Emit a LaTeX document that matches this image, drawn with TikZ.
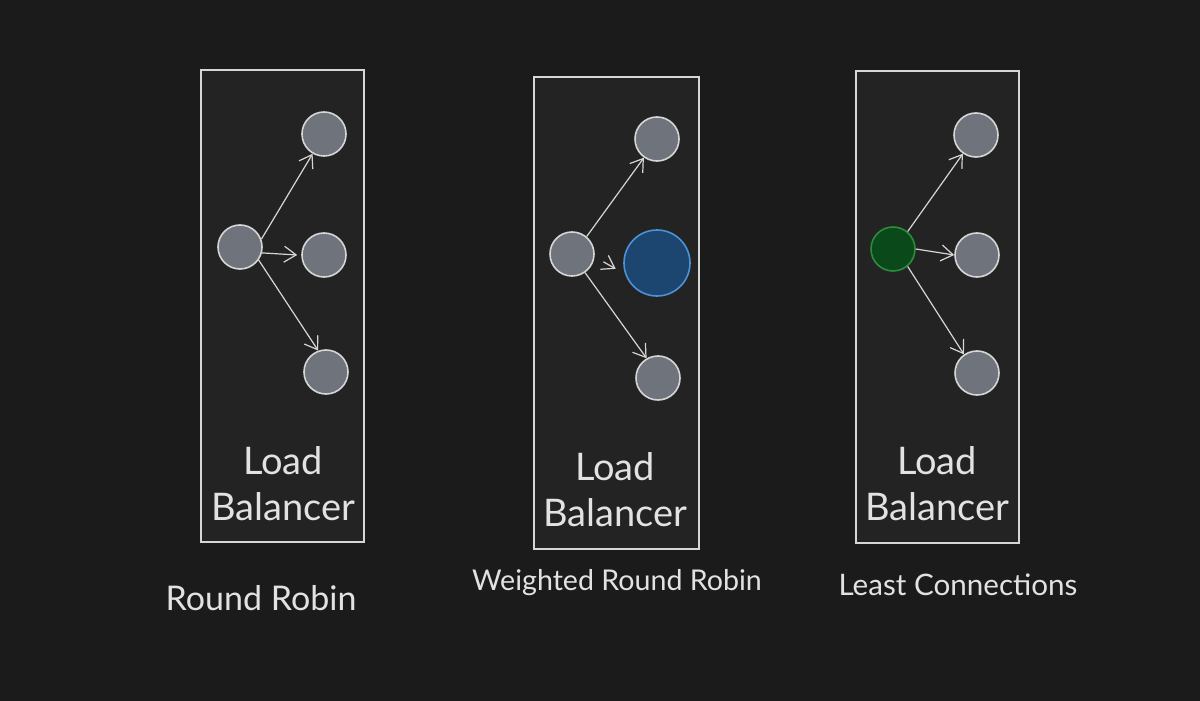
\documentclass[tikz,border=0pt]{standalone}
\usepackage{fontspec}
\setmainfont{Lato}
\usetikzlibrary{arrows.meta}

\definecolor{bgcol}{HTML}{1B1B1B}
\definecolor{boxcol}{HTML}{232323}
\definecolor{linecol}{HTML}{D6D6D6}
\definecolor{servcol}{HTML}{6E737C}
\definecolor{bluefill}{HTML}{1C4670}
\definecolor{bluedraw}{HTML}{4C92D8}
\definecolor{greenfill}{HTML}{0A4A1A}
\definecolor{greendraw}{HTML}{2E8B3E}
\definecolor{txtcol}{HTML}{E2E2E2}

\tikzset{
    lbbox/.style={draw=linecol, fill=boxcol, line width=0.6pt},
    server/.style={circle, draw=linecol, fill=servcol, line width=0.8pt, minimum size=22pt, inner sep=0pt},
    conn/.style={draw=linecol, line width=0.6pt, -{Straight Barb[length=6pt, width=8pt]}},
    lbtext/.style={text=txtcol, font=\fontsize{19}{23}\selectfont, align=center},
    caption/.style={text=txtcol, font=\fontsize{17}{20}\selectfont}
}

\begin{document}
\begin{tikzpicture}[x=0.5pt, y=-0.5pt]
        % Sfondo
        \fill[bgcol] (0,0) rectangle (1200,701);
        \useasboundingbox (0,0) rectangle (1200,701);

        % Round Robin
        \draw[lbbox] (201,70) rectangle (364,542);
        \node[server] (rrlb) at (240,247) {};
        \node[server] (rra) at (324,134) {};
        \node[server] (rrb) at (324,255) {};
        \node[server] (rrc) at (326,372) {};
        \draw[conn] (rrlb.20) -- (rra.240);
        \draw[conn] (rrlb.-15) -- ([xshift=-2pt]rrb.west);
        \draw[conn] (rrlb.-35) -- (rrc.110);
        \node[lbtext] (rrtext) at (283,484) {Load\\Balancer};
        \node[caption] (rrname) at (261,598) {Round Robin};

        % Weighted Round Robin
        \draw[lbbox] (534,77) rectangle (699,549);
        \node[server] (wrlb) at (572,254) {};
        \node[server] (wra) at (657,139) {};
        \node[server, fill=bluefill, draw=bluedraw, minimum size=33pt] (wrb) at (657,263) {};
        \node[server] (wrc) at (658,378) {};
        \draw[conn] (wrlb.50) -- (wra.235);
        \draw[conn] ([xshift=5pt]wrlb.-20) -- ([xshift=-4pt]wrb.190);
        \draw[conn] (wrlb.-55) -- (wrc.120);
        \node[lbtext] (wrtext) at (615,490) {Load\\Balancer};
        \node[caption, font=\fontsize{14.3}{17}\selectfont] (wrname) at (617,583) {Weighted Round Robin};

        % Least Connections
        \draw[lbbox] (856,71) rectangle (1019,543);
        \node[server, fill=greenfill, draw=greendraw] (lclb) at (893,249) {};
        \node[server] (lca) at (976,135) {};
        \node[server] (lcb) at (977,255) {};
        \node[server] (lcc) at (977,373) {};
        \draw[conn] (lclb.50) -- (lca.235);
        \draw[conn] (lclb.east) -- (lcb.west);
        \draw[conn] (lclb.-50) -- (lcc.125);
        \node[lbtext] (lctext) at (937,484) {Load\\Balancer};
        \node[caption, font=\fontsize{14.8}{18}\selectfont] (lcname) at (958,585) {Least Connections};
\end{tikzpicture}
\end{document}
